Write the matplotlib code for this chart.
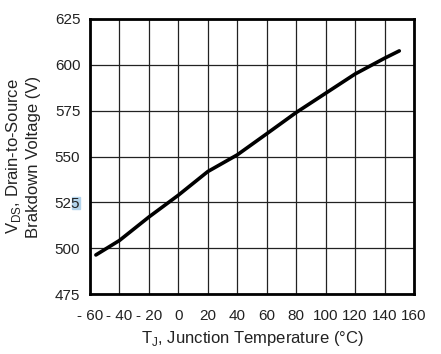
import matplotlib
matplotlib.use("Agg")
import matplotlib.pyplot as plt
from matplotlib.patches import Rectangle

plt.rcParams['font.family'] = ['Liberation Sans', 'DejaVu Sans']

# breakdown voltage vs junction temperature
temp_c = [-56, -40, -20, 0, 20, 40, 60, 80, 100, 120, 140, 150]
bv_volts = [496.3, 504.2, 517.0, 528.9, 541.8, 550.9, 562.4, 574.0, 584.5, 595.0, 603.6, 607.6]

x_ticks = list(range(-60, 161, 20))
x_labels = ["- 60", "- 40", "- 20", "0", "20", "40", "60", "80", "100", "120", "140", "160"]
y_ticks = [475, 500, 525, 550, 575, 600, 625]

W, H = 441, 354
fig = plt.figure(figsize=(W / 100, H / 100), dpi=100)
ax = fig.add_axes([90 / W, 1 - 294 / H, 324 / W, 275 / H])

ax.plot(temp_c, bv_volts, color="black", lw=2.6, solid_capstyle="round")

ax.set_xlim(-60, 160)
ax.set_ylim(475, 625)
ax.set_xticks(x_ticks)
ax.set_xticklabels(x_labels)
ax.set_yticks(y_ticks)
ax.grid(True, color="#222222", lw=0.9)
ax.set_axisbelow(True)
ax.tick_params(axis="y", length=0, labelsize=11, colors="#222222", pad=7)
ax.tick_params(axis="x", length=0, labelsize=11, colors="#222222", pad=11)
for s in ax.spines.values():
    s.set_linewidth(2.0)
    s.set_color("black")

ax.set_xlabel("T$_\\mathregular{J}$, Junction Temperature (°C)", fontsize=12, color="#222222", labelpad=4)
ax.set_ylabel("V$_\\mathregular{DS}$, Drain-to-Source\nBrakdown Voltage (V)", fontsize=12,
              color="#222222", labelpad=10)

# little blue smudge behind the "525" label in the source image
ax.patch.set_alpha(0)
fig.patches.append(Rectangle((72 / W, 1 - 209 / H), 8 / W, 12 / H, transform=fig.transFigure,
                             color="#b3d4ec", zorder=-1))

fig.savefig("out.png", dpi=100)
